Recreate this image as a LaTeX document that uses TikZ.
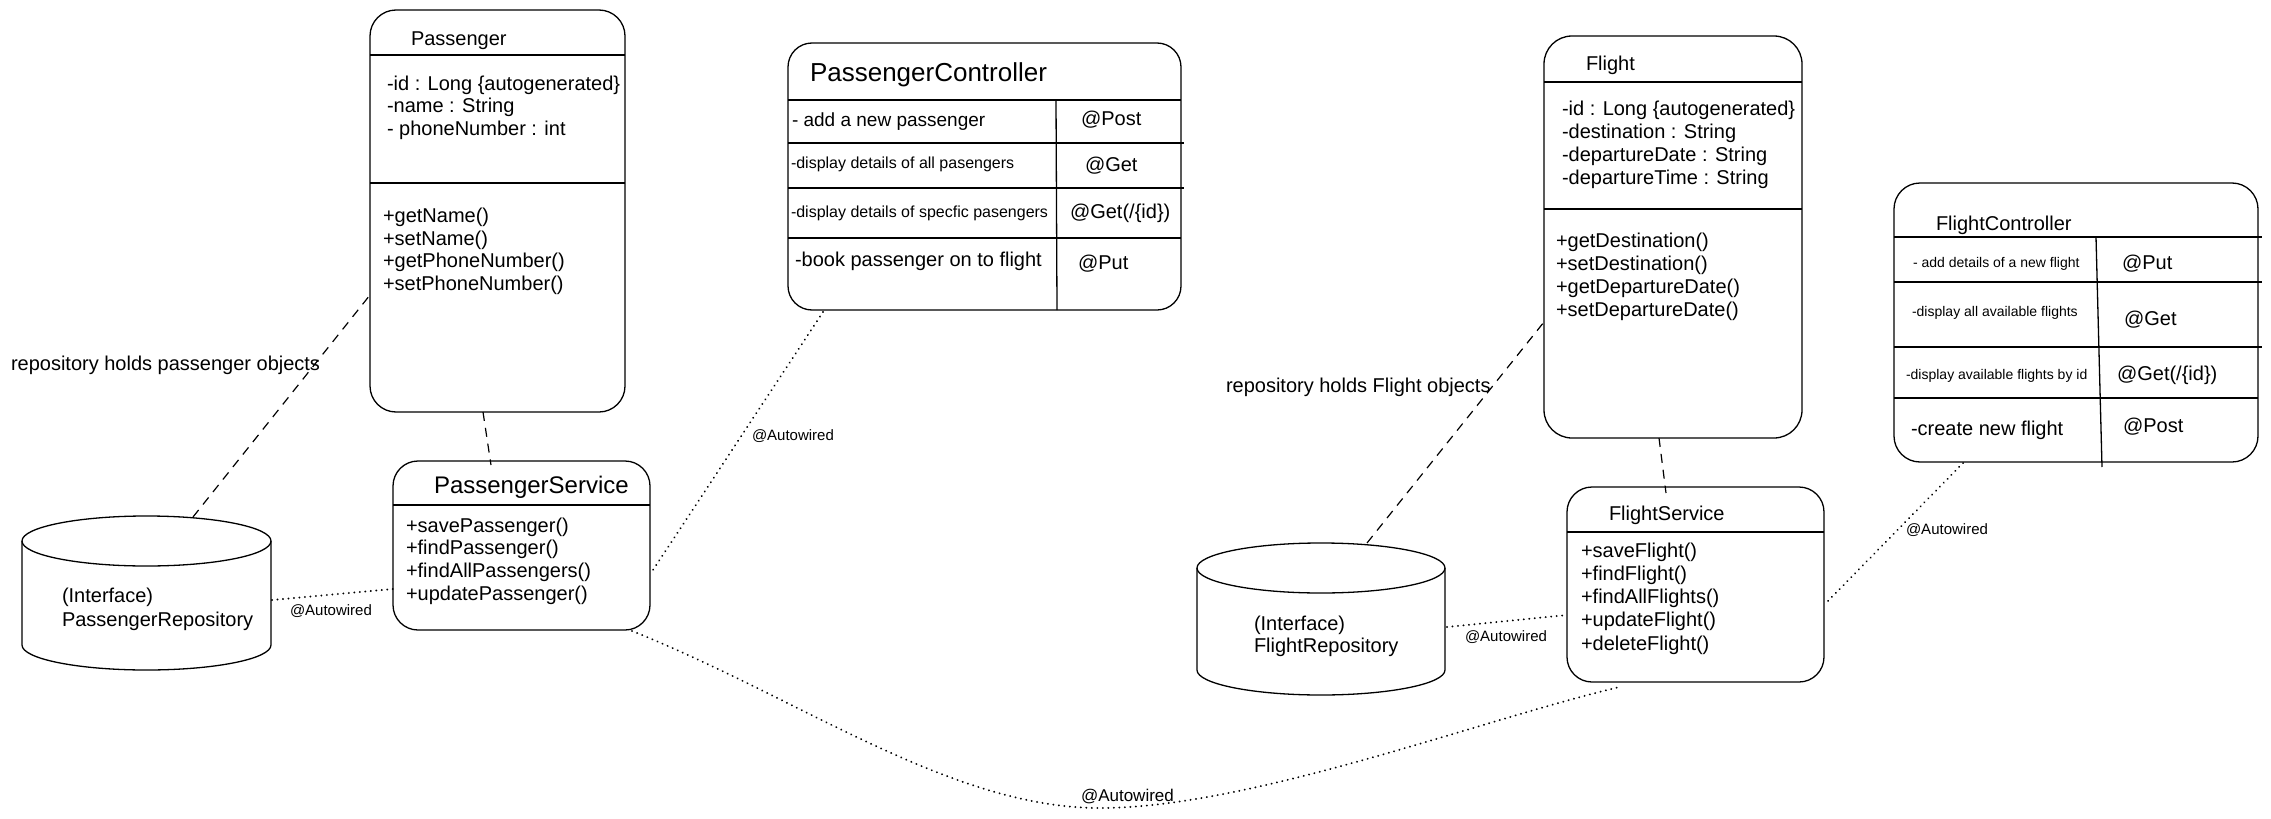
\documentclass[tikz,border=0pt]{standalone}
\usepackage{fontspec}
\setmainfont{Liberation Sans}
\usetikzlibrary{calc}
\newcommand{\fsz}[1]{\fontsize{#1}{#1}\selectfont}
\tikzset{
  box/.style={draw, line width=1.3pt, rounded corners=26pt, inner sep=0pt, outer sep=0pt},
  ghost/.style={inner sep=0pt, outer sep=0pt},
  txt/.style={anchor=base west, inner sep=0pt, outer sep=0pt, font=\fsz{20}},
  small/.style={txt, font=\fsz{16}},
  tiny/.style={txt, font=\fsz{14}},
  lbl/.style={txt, font=\fsz{15}},
  dashedlink/.style={line width=1.2pt, dash pattern=on 9pt off 7pt},
  dottedlink/.style={line width=2.1pt, dash pattern=on 0.01pt off 5.5pt, line cap=round},
  rule/.style={line width=1.3pt},
  thickrule/.style={line width=2.2pt},
}
\begin{document}
\begin{tikzpicture}[x=1pt,y=-1pt]
\useasboundingbox (0,0) rectangle (2271,819);

% ---------- Passenger ----------
\node[box, minimum width=255pt, minimum height=402pt] (P) at (497.5,211) {};
\draw[rule] (370,55) -- (625,55);
\draw[rule] (370,183) -- (625,183);
\node[txt] (Pt) at (411,45) {Passenger};
\foreach \t [count=\i] in {{-id : Long \{autogenerated\}},{-name : String},{- phoneNumber : int}}
  \node[txt] (Pa\i) at (387,{90.3+(\i-1)*22.5}) {\t};
\foreach \t [count=\i] in {{+getName()},{+setName()},{+getPhoneNumber()},{+setPhoneNumber()}}
  \node[txt] (Pm\i) at (383,{222.2+(\i-1)*22.8}) {\t};

% ---------- PassengerController ----------
\node[box, rounded corners=24pt, minimum width=393pt, minimum height=267pt] (PC) at (984.5,176.5) {};
\draw[rule] (788,100) -- (1181,100);
\draw[rule] (788,143) -- (1184,143);
\draw[rule] (788,188) -- (1184,188);
\draw[rule] (788,238) -- (1181,238);
\draw[rule] (1056,100) -- (1057,310);
\node[txt, font=\fsz{26}] (PCt) at (810,81.4) {PassengerController};
\node[txt, font=\fsz{19}] (PC1) at (792,126.8) {- add a new passenger};
\node[small] (PC2) at (791,168.8) {-display details of all pasengers};
\node[small] (PC3) at (791,217.8) {-display details of specfic pasengers};
\node[txt] (PC4) at (795,266.2) {-book passenger on to flight};
\node[txt] (PCa) at (1081,125.2) {@Post};
\node[txt] (PCb) at (1085,171.2) {@Get};
\node[txt] (PCc) at (1070,218.2) {@Get(/\{id\})};
\node[txt] (PCd) at (1078,269.2) {@Put};

% ---------- PassengerService ----------
\node[box, rounded corners=25pt, minimum width=257pt, minimum height=169pt] (PS) at (521.5,545.5) {};
\draw[thickrule] (393,505) -- (650,505);
\node[txt, font=\fsz{24}] (PSt) at (434,493.6) {PassengerService};
\foreach \t [count=\i] in {{+savePassenger()},{+findPassenger()},{+findAllPassengers()},{+updatePassenger()}}
  \node[txt] (PSm\i) at (406,{532.2+(\i-1)*22.7}) {\t};

% ---------- PassengerRepository ----------
\node[ghost, minimum width=249pt, minimum height=153pt] (PR) at (146.5,593.5) {};
\draw[rule] (146.5,541) ellipse [x radius=124.5, y radius=25];
\draw[rule] (22,541) -- (22,645) .. controls (22,658.8) and (77.7,670) .. (146.5,670)
  .. controls (215.3,670) and (271,658.8) .. (271,645) -- (271,541);
\node[txt] (PR1) at (62,602.2) {(Interface)};
\node[txt] (PR2) at (62,626.2) {PassengerRepository};
\node[txt] (PRn) at (11,370.2) {repository holds passenger objects};

% ---------- Flight ----------
\node[box, rounded corners=28pt, minimum width=258pt, minimum height=402pt] (F) at (1673,237) {};
\draw[rule] (1544,82) -- (1802,82);
\draw[rule] (1544,209) -- (1802,209);
\node[txt] (Ft) at (1586,70.2) {Flight};
\foreach \t [count=\i] in {{-id : Long \{autogenerated\}},{-destination : String},{-departureDate : String},{-departureTime : String}}
  \node[txt] (Fa\i) at (1562,{115.2+(\i-1)*23}) {\t};
\foreach \t [count=\i] in {{+getDestination()},{+setDestination()},{+getDepartureDate()},{+setDepartureDate()}}
  \node[txt] (Fm\i) at (1556,{247.2+(\i-1)*23}) {\t};

% ---------- FlightService ----------
\node[box, rounded corners=25pt, minimum width=257pt, minimum height=195pt] (FS) at (1695.5,584.5) {};
\draw[thickrule] (1567,532) -- (1824,532);
\node[txt] (FSt) at (1609,520.2) {FlightService};
\foreach \t [count=\i] in {{+saveFlight()},{+findFlight()},{+findAllFlights()},{+updateFlight()},{+deleteFlight()}}
  \node[txt] (FSm\i) at (1581,{557.2+(\i-1)*23.2}) {\t};

% ---------- FlightRepository ----------
\node[ghost, minimum width=248pt, minimum height=152pt] (FR) at (1321,619) {};
\draw[rule] (1321,568) ellipse [x radius=124, y radius=25];
\draw[rule] (1197,568) -- (1197,670) .. controls (1197,683.8) and (1252.8,695) .. (1321,695)
  .. controls (1389.2,695) and (1445,683.8) .. (1445,670) -- (1445,568);
\node[txt] (FR1) at (1254,630.2) {(Interface)};
\node[txt] (FR2) at (1254,652.2) {FlightRepository};
\node[txt] (FRn) at (1226,392.2) {repository holds Flight objects};

% ---------- FlightController ----------
\node[box, rounded corners=26pt, minimum width=364pt, minimum height=279pt] (FC) at (2076,322.5) {};
\draw[rule] (1894,237) -- (2262,237);
\draw[rule] (1894,282) -- (2262,282);
\draw[rule] (1894,347) -- (2262,347);
\draw[rule] (1894,398) -- (2258,398);
\draw[rule] (2096,237) -- (2102,467);
\node[txt] (FCt) at (1936,230.2) {FlightController};
\node[tiny] (FC1) at (1913,267) {- add details of a new flight};
\node[tiny] (FC2) at (1912,316) {-display all available flights};
\node[tiny] (FC3) at (1906,379) {-display available flights by id};
\node[txt] (FC4) at (1911,435.2) {-create new flight};
\node[txt] (FCa) at (2122,269.2) {@Put};
\node[txt] (FCb) at (2124,325.2) {@Get};
\node[txt] (FCc) at (2117,380.2) {@Get(/\{id\})};
\node[txt] (FCd) at (2123,432.2) {@Post};

% ---------- connectors ----------
\coordinate (low) at (1100,808);
\draw[dashedlink] ($(PR.north)+(46.5,0)$) -- ($(P.west)+(0,84)$);
\draw[dashedlink] ($(P.south)+(-14.5,0)$) -- ($(PS.north)+(-30.5,4)$);
\draw[dottedlink] ($(PR.east)+(1,6.5)$) -- ($(PS.west)+(0,43.5)$);
\draw[dottedlink] ($(PC.south)+(-161.5,2)$) -- ($(PS.east)+(1,27.5)$);
\draw[dottedlink] ($(PS.south east)+(-18,1)$) .. controls (800,698) and (950,808) .. (low)
  .. controls (1250,808) and (1480,720) .. ($(FS.south)+(-76,5)$);
\draw[dashedlink] ($(FR.north)+(46,0)$) -- ($(F.west)+(0,85)$);
\draw[dashedlink] ($(F.south)+(-14,0)$) -- ($(FS.north)+(-29.5,6)$);
\draw[dottedlink] ($(FR.east)+(2,8)$) -- ($(FS.west)+(0,30.5)$);
\draw[dottedlink] ($(FC.south)+(-113,1)$) -- ($(FS.east)+(2,18.5)$);

\node[lbl] (L1) at (290,615.4) {@Autowired};
\node[lbl] (L2) at (752,440.4) {@Autowired};
\node[txt, font=\fsz{17}] (L3) at (1081,801.1) {@Autowired};
\node[lbl] (L4) at (1465,641.4) {@Autowired};
\node[lbl] (L5) at (1906,534.4) {@Autowired};
\end{tikzpicture}
\end{document}
